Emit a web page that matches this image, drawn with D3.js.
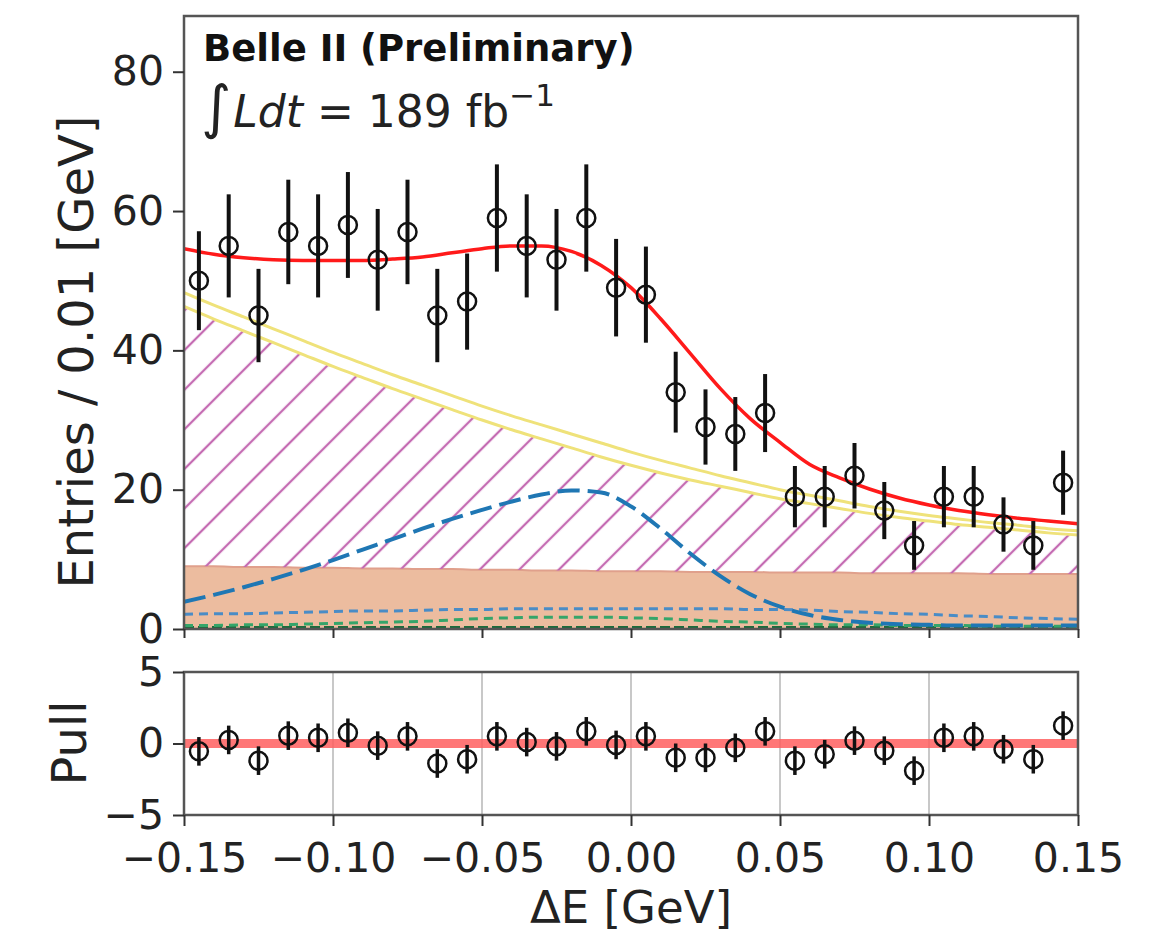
<!DOCTYPE html>
<html>
<head>
<meta charset="utf-8">
<script src="https://cdn.jsdelivr.net/npm/d3@7"></script>
<style>
  body { margin: 0; background: #fff; }
  svg { display: block; font-family: "DejaVu Sans", sans-serif; }
</style>
</head>
<body>
<svg id="chart" width="1174" height="936"></svg>
<script>
// bin centres and measured entries
let binCenters = [-0.145, -0.135, -0.125, -0.115, -0.105, -0.095, -0.085, -0.075, -0.065, -0.055,
	-0.045, -0.035, -0.025, -0.015, -0.005, 0.005, 0.015, 0.025, 0.035, 0.045,
	0.055, 0.065, 0.075, 0.085, 0.095, 0.105, 0.115, 0.125, 0.135, 0.145];
let entries = [50, 55, 45, 57, 55, 58, 53, 57, 45, 47,
	59, 55, 53, 59, 49, 48, 34, 29, 28, 31,
	19, 19, 22, 17, 12, 19, 19, 15, 12, 21];
let entryErr = [7.1, 7.4, 6.7, 7.5, 7.4, 7.6, 7.3, 7.5, 6.7, 6.9,
	7.7, 7.4, 7.3, 7.7, 7.0, 6.9, 5.8, 5.4, 5.3, 5.6,
	4.4, 4.4, 4.7, 4.1, 3.5, 4.4, 4.4, 3.9, 3.5, 4.6];
let pulls = [-0.55, 0.25, -1.2, 0.55, 0.4, 0.75, -0.15, 0.5, -1.4, -1.1,
	0.5, 0.1, -0.2, 0.85, -0.1, 0.5, -1.0, -1.0, -0.3, 0.85,
	-1.2, -0.75, 0.2, -0.5, -1.9, 0.4, 0.5, -0.4, -1.1, 1.25];

// fit components sampled on a fine grid
let curveX = [-0.15, -0.14, -0.13, -0.12, -0.11, -0.10, -0.09, -0.08, -0.07, -0.06,
	-0.05, -0.04, -0.03, -0.02, -0.01, 0.00, 0.01, 0.02, 0.03, 0.04,
	0.05, 0.06, 0.07, 0.08, 0.09, 0.10, 0.11, 0.12, 0.13, 0.14, 0.15];
let totalFit = [54.6, 53.8, 53.3, 53.0, 52.9, 52.9, 52.9, 53.1, 53.4, 54.0,
	54.6, 55.0, 55.0, 54.2, 52.2, 49.0, 44.5, 39.5, 34.5, 30.2,
	26.8, 23.6, 21.7, 20.1, 18.8, 17.8, 17.0, 16.4, 15.9, 15.5, 15.1];
let yellowUpper = [48.3, 46.5, 44.8, 43.1, 41.4, 39.7, 38.1, 36.5, 35.0, 33.5,
	32.0, 30.6, 29.3, 28.0, 26.7, 25.4, 24.2, 23.1, 22.0, 21.0,
	20.0, 19.2, 18.4, 17.6, 16.9, 16.3, 15.8, 15.3, 14.9, 14.4, 14.1];
let hatchTop = [46.3, 44.5, 42.8, 41.1, 39.4, 37.7, 36.1, 34.5, 33.0, 31.5,
	30.0, 28.6, 27.3, 26.0, 24.7, 23.5, 22.4, 21.4, 20.5, 19.6,
	18.7, 18.0, 17.3, 16.6, 16.0, 15.5, 15.0, 14.6, 14.2, 13.8, 13.5];
let peakingTop = [9.0, 9.0, 8.9, 8.9, 8.8, 8.8, 8.7, 8.7, 8.6, 8.6,
	8.5, 8.5, 8.4, 8.4, 8.3, 8.3, 8.3, 8.2, 8.2, 8.2,
	8.1, 8.1, 8.1, 8.0, 8.0, 8.0, 8.0, 7.9, 7.9, 7.9, 7.9];
let signalPdf = [3.9, 4.9, 6.0, 7.2, 8.5, 9.9, 11.4, 12.9, 14.4, 15.8,
	17.1, 18.3, 19.3, 19.9, 19.6, 17.6, 14.4, 10.8, 7.6, 5.0,
	3.2, 2.0, 1.3, 0.9, 0.7, 0.6, 0.5, 0.5, 0.5, 0.5, 0.5];
let bkgBlue = [2.1, 2.2, 2.2, 2.3, 2.4, 2.5, 2.6, 2.6, 2.7, 2.8,
	2.8, 2.9, 2.9, 2.9, 2.9, 2.9, 2.9, 2.9, 2.9, 2.8,
	2.8, 2.7, 2.5, 2.4, 2.2, 2.1, 1.9, 1.8, 1.6, 1.5, 1.4];
let bkgGreen = [0.5, 0.5, 0.6, 0.6, 0.7, 0.8, 0.9, 1.0, 1.1, 1.3,
	1.5, 1.6, 1.7, 1.7, 1.7, 1.6, 1.5, 1.3, 1.1, 1.0,
	0.8, 0.7, 0.6, 0.6, 0.5, 0.5, 0.5, 0.4, 0.4, 0.4, 0.4];
let bkgDarkGreen = [0.2, 0.2, 0.2, 0.2, 0.2, 0.2, 0.2, 0.2, 0.2, 0.2,
	0.2, 0.2, 0.2, 0.2, 0.2, 0.2, 0.2, 0.2, 0.2, 0.2,
	0.2, 0.2, 0.2, 0.2, 0.2, 0.2, 0.2, 0.2, 0.2, 0.2, 0.2];

let xTicks = [-0.15, -0.10, -0.05, 0.00, 0.05, 0.10, 0.15];
let yTicks = [0, 20, 40, 60, 80];
let pullTicks = [-5, 0, 5];

let svg = d3.select("#chart");
let left = 184, right = 1078;
let mainTop = 16, mainBottom = 629;
let pullTop = 672, pullBottom = 815;

let x = d3.scaleLinear().domain([-0.15, 0.15]).range([left, right]);
let y = d3.scaleLinear().domain([0, 88]).range([mainBottom, mainTop]);
let yp = d3.scaleLinear().domain([-5, 5]).range([pullBottom, pullTop]);

let defs = svg.append("defs");
defs.append("clipPath").attr("id", "mainClip")
	.append("rect").attr("x", left).attr("y", mainTop)
	.attr("width", right - left).attr("height", mainBottom - mainTop);
let hatch = defs.append("pattern").attr("id", "hatch")
	.attr("patternUnits", "userSpaceOnUse")
	.attr("width", 28).attr("height", 28)
	.attr("patternTransform", "rotate(45)");
hatch.append("line").attr("x1", 14).attr("y1", 0).attr("x2", 14).attr("y2", 28)
	.attr("stroke", "#c46bb2").attr("stroke-width", 2.3);

let plot = svg.append("g").attr("clip-path", "url(#mainClip)");

let band = function (lower, upper) {
	return d3.area()
		.x((d, i) => x(curveX[i]))
		.y0((d, i) => y(lower ? lower[i] : 0))
		.y1((d, i) => y(upper[i]))
		.curve(d3.curveMonotoneX)(curveX);
};
let lineOf = function (vals) {
	return d3.line()
		.x((d, i) => x(curveX[i]))
		.y((d, i) => y(vals[i]))
		.curve(d3.curveMonotoneX)(curveX);
};

// stacked components
plot.append("path").attr("d", band(null, peakingTop))
	.attr("fill", "#ecbc9f");
plot.append("path").attr("d", lineOf(peakingTop))
	.attr("fill", "none").attr("stroke", "#e0a08c").attr("stroke-width", 2);
plot.append("path").attr("d", band(peakingTop, hatchTop))
	.attr("fill", "url(#hatch)");
plot.append("path").attr("d", lineOf(hatchTop))
	.attr("fill", "none").attr("stroke", "#efe27a").attr("stroke-width", 3);
plot.append("path").attr("d", lineOf(yellowUpper))
	.attr("fill", "none").attr("stroke", "#efe27a").attr("stroke-width", 3);

// individual pdfs
plot.append("path").attr("d", lineOf(bkgDarkGreen))
	.attr("fill", "none").attr("stroke", "#1c6b3c").attr("stroke-width", 3)
	.attr("stroke-dasharray", "10 4");
plot.append("path").attr("d", lineOf(bkgGreen))
	.attr("fill", "none").attr("stroke", "#35a56a").attr("stroke-width", 3)
	.attr("stroke-dasharray", "9 6");
plot.append("path").attr("d", lineOf(bkgBlue))
	.attr("fill", "none").attr("stroke", "#4a8cc6").attr("stroke-width", 3)
	.attr("stroke-dasharray", "9 6");
plot.append("path").attr("d", lineOf(signalPdf))
	.attr("fill", "none").attr("stroke", "#1f77b4").attr("stroke-width", 4)
	.attr("stroke-dasharray", "22 8");
plot.append("path").attr("d", lineOf(totalFit))
	.attr("fill", "none").attr("stroke", "#ff1a1a").attr("stroke-width", 3.5);

// data points
let pts = plot.selectAll("g.pt").data(binCenters).enter().append("g").attr("class", "pt");
pts.append("line")
	.attr("x1", (d) => x(d)).attr("x2", (d) => x(d))
	.attr("y1", (d, i) => y(entries[i] - entryErr[i]))
	.attr("y2", (d, i) => y(entries[i] + entryErr[i]))
	.attr("stroke", "#111").attr("stroke-width", 4);
pts.append("circle")
	.attr("cx", (d) => x(d)).attr("cy", (d, i) => y(entries[i]))
	.attr("r", 9).attr("fill", "none").attr("stroke", "#111").attr("stroke-width", 2.5);

// pull panel
let pull = svg.append("g");
pull.selectAll("line.grid").data(xTicks.slice(1, -1)).enter().append("line")
	.attr("class", "grid")
	.attr("x1", (d) => x(d)).attr("x2", (d) => x(d))
	.attr("y1", pullTop).attr("y2", pullBottom)
	.attr("stroke", "#c8c8c8").attr("stroke-width", 2);
pull.append("line")
	.attr("x1", left).attr("x2", right).attr("y1", yp(0)).attr("y2", yp(0))
	.attr("stroke", "#ff6060").attr("stroke-width", 9).attr("opacity", 0.85);
let pp = pull.selectAll("g.pp").data(binCenters).enter().append("g").attr("class", "pp");
pp.append("line")
	.attr("x1", (d) => x(d)).attr("x2", (d) => x(d))
	.attr("y1", (d, i) => yp(pulls[i] - 1))
	.attr("y2", (d, i) => yp(pulls[i] + 1))
	.attr("stroke", "#111").attr("stroke-width", 3.5);
pp.append("circle")
	.attr("cx", (d) => x(d)).attr("cy", (d, i) => yp(pulls[i]))
	.attr("r", 9).attr("fill", "none").attr("stroke", "#111").attr("stroke-width", 2.5);

// frames
svg.append("rect").attr("x", left).attr("y", mainTop)
	.attr("width", right - left).attr("height", mainBottom - mainTop)
	.attr("fill", "none").attr("stroke", "#555").attr("stroke-width", 2.5);
svg.append("rect").attr("x", left).attr("y", pullTop)
	.attr("width", right - left).attr("height", pullBottom - pullTop)
	.attr("fill", "none").attr("stroke", "#555").attr("stroke-width", 2.5);

// axes
let styleAxis = function (g) {
	g.select(".domain").remove();
	g.selectAll(".tick line").attr("stroke", "#333").attr("stroke-width", 2);
	g.selectAll(".tick text").attr("font-size", 41).attr("fill", "#222")
		.attr("font-family", "DejaVu Sans");
};
svg.append("g").attr("transform", `translate(${left},0)`)
	.call(d3.axisLeft(y).tickValues(yTicks).tickSize(11).tickPadding(9).tickFormat(d3.format("d")))
	.call(styleAxis);
svg.append("g").attr("transform", `translate(${left},0)`)
	.call(d3.axisLeft(yp).tickValues(pullTicks).tickSize(11).tickPadding(9).tickFormat(d3.format("d")))
	.call(styleAxis);
svg.append("g").attr("transform", `translate(0,${mainBottom})`)
	.call(d3.axisBottom(x).tickValues(xTicks).tickSize(9).tickFormat(""))
	.call(styleAxis);
svg.append("g").attr("transform", `translate(0,${pullBottom})`)
	.call(d3.axisBottom(x).tickValues(xTicks).tickSize(11).tickPadding(17).tickFormat(d3.format(".2f")))
	.call(styleAxis);

// labels
svg.append("text").attr("x", 631).attr("y", 923).attr("text-anchor", "middle")
	.attr("font-size", 45).attr("fill", "#222").text("ΔE [GeV]");
svg.append("text").attr("transform", "translate(93,352) rotate(-90)")
	.attr("text-anchor", "middle").attr("font-size", 48).attr("fill", "#222")
	.text("Entries / 0.01 [GeV]");
svg.append("text").attr("transform", "translate(86,743) rotate(-90)")
	.attr("text-anchor", "middle").attr("font-size", 48).attr("fill", "#222")
	.text("Pull");

svg.append("text").attr("x", 203).attr("y", 61)
	.attr("font-size", 37).attr("font-weight", "bold").attr("fill", "#111")
	.text("Belle II (Preliminary)");
let lumi = svg.append("text").attr("x", 201).attr("y", 127)
	.attr("font-size", 44).attr("fill", "#222");
lumi.append("tspan").attr("font-size", 58).text("∫");
lumi.append("tspan").attr("font-style", "italic").attr("dx", 2).text("Ldt");
lumi.append("tspan").text(" = 189 fb");
lumi.append("tspan").attr("font-size", 31).attr("dy", -21).text("−1");
</script>
</body>
</html>
